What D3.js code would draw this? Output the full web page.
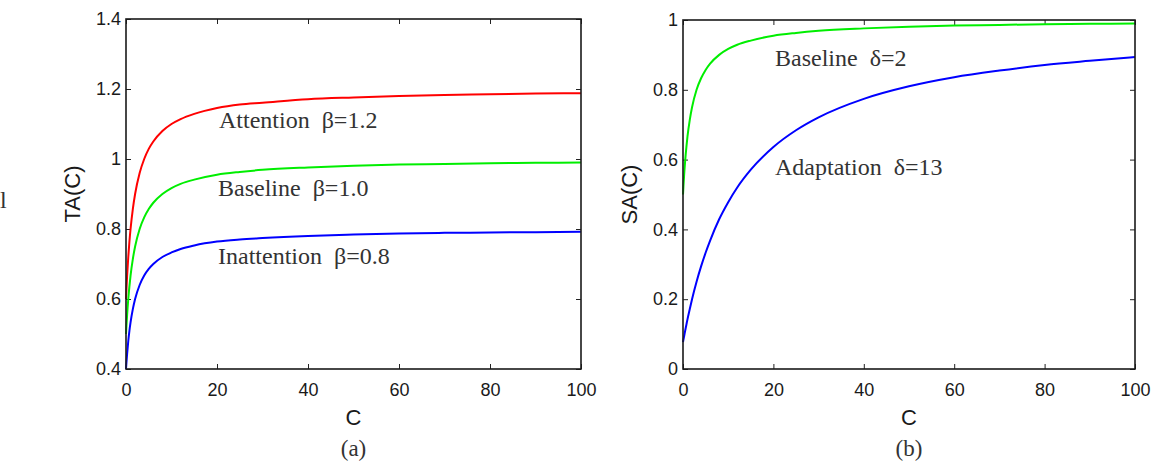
<!DOCTYPE html>
<html>
<head>
<meta charset="utf-8">
<script src="https://cdn.jsdelivr.net/npm/d3@7"></script>
<style>
  html, body { margin: 0; padding: 0; background: #fff; }
  svg { display: block; }
  .tick text { font-family: "Liberation Sans", Arial, sans-serif; font-size: 18px; fill: #1a1a1a; }
  .ann { font-family: "Liberation Serif", "Times New Roman", serif; font-size: 24px; fill: #333; white-space: pre; }
  .axlab { font-family: "Liberation Sans", Arial, sans-serif; font-size: 22px; fill: #1a1a1a; }
  .cap { font-family: "Liberation Serif", "Times New Roman", serif; font-size: 23px; fill: #333; }
</style>
</head>
<body>
<svg id="chart" width="1153" height="469"></svg>
<script>
// ---- data ----
const C = [0, 0.1, 0.25, 0.5, 0.75, 1, 1.5, 2, 3, 4, 5, 6, 8, 10, 12, 15, 20, 25, 30, 40, 50, 60, 70, 80, 90, 100];
const taAttention   = [0.600, 0.629, 0.667, 0.720, 0.764, 0.800, 0.857, 0.900, 0.960, 1.000, 1.029, 1.050, 1.080, 1.100, 1.114, 1.129, 1.146, 1.156, 1.161, 1.171, 1.176, 1.180, 1.183, 1.185, 1.187, 1.188];
const taBaseline    = [0.500, 0.524, 0.556, 0.600, 0.636, 0.667, 0.714, 0.750, 0.800, 0.833, 0.857, 0.875, 0.900, 0.917, 0.929, 0.941, 0.955, 0.963, 0.969, 0.976, 0.981, 0.984, 0.986, 0.988, 0.989, 0.990];
const taInattention = [0.400, 0.419, 0.444, 0.480, 0.509, 0.533, 0.571, 0.600, 0.640, 0.667, 0.686, 0.700, 0.720, 0.733, 0.743, 0.753, 0.764, 0.770, 0.774, 0.780, 0.784, 0.787, 0.789, 0.790, 0.791, 0.792];
const saBaseline    = [0.500, 0.524, 0.556, 0.600, 0.636, 0.667, 0.714, 0.750, 0.800, 0.833, 0.857, 0.875, 0.900, 0.917, 0.929, 0.941, 0.955, 0.963, 0.969, 0.976, 0.981, 0.984, 0.986, 0.988, 0.989, 0.990];
const saAdaptation  = [0.077, 0.084, 0.094, 0.111, 0.127, 0.143, 0.172, 0.200, 0.250, 0.294, 0.333, 0.368, 0.429, 0.478, 0.520, 0.571, 0.636, 0.684, 0.721, 0.774, 0.810, 0.836, 0.855, 0.871, 0.883, 0.894];

const xTicks = [0, 20, 40, 60, 80, 100];
const taTicks = [0.4, 0.6, 0.8, 1, 1.2, 1.4];
const saTicks = [0, 0.2, 0.4, 0.6, 0.8, 1];

const panels = [
  { box: [126, 19, 581, 369], yDomain: [0.4, 1.4], yTicks: taTicks, yLabel: "TA(C)", caption: "(a)", ylabX: 72,
    series: [
      { values: taAttention, color: "#ff0000", label: "Attention  \u03b2=1.2", lx: 219, ly: 128 },
      { values: taBaseline, color: "#00ee00", label: "Baseline  \u03b2=1.0", lx: 218, ly: 196 },
      { values: taInattention, color: "#0000ff", label: "Inattention  \u03b2=0.8", lx: 218, ly: 264 }
    ] },
  { box: [683, 20, 1135, 369], yDomain: [0, 1], yTicks: saTicks, yLabel: "SA(C)", caption: "(b)", ylabX: 629,
    series: [
      { values: saBaseline, color: "#00ee00", label: "Baseline  \u03b4=2", lx: 775, ly: 66 },
      { values: saAdaptation, color: "#0000ff", label: "Adaptation  \u03b4=13", lx: 775, ly: 175 }
    ] }
];

const svg = d3.select("#chart");

panels.forEach(p => {
  const [x0, y0, x1, y1] = p.box;
  const x = d3.scaleLinear().domain([0, 100]).range([x0, x1]);
  const y = d3.scaleLinear().domain(p.yDomain).range([y1, y0]);
  const g = svg.append("g");

  const fmt = d => String(d);
  g.append("g").attr("transform", `translate(0,${y1})`)
    .call(d3.axisBottom(x).tickValues(xTicks).tickFormat(fmt).tickSize(-5).tickSizeOuter(0).tickPadding(14));
  g.append("g").attr("transform", `translate(0,${y0})`)
    .call(d3.axisTop(x).tickValues(xTicks).tickFormat("").tickSize(-5).tickSizeOuter(0));
  g.append("g").attr("transform", `translate(${x0},0)`)
    .call(d3.axisLeft(y).tickValues(p.yTicks).tickFormat(fmt).tickSize(-5).tickSizeOuter(0).tickPadding(5));
  g.append("g").attr("transform", `translate(${x1},0)`)
    .call(d3.axisRight(y).tickValues(p.yTicks).tickFormat("").tickSize(-5).tickSizeOuter(0));
  g.selectAll(".domain").remove();
  g.selectAll(".tick line").attr("stroke", "#222").attr("stroke-width", 1);

  const line = d3.line().x((d, i) => x(C[i])).y(d => y(d)).curve(d3.curveMonotoneX);
  p.series.forEach(s => {
    g.append("path").datum(s.values).attr("d", line)
      .attr("fill", "none").attr("stroke", s.color).attr("stroke-width", 2);
  });

  g.append("rect").attr("x", x0).attr("y", y0).attr("width", x1 - x0).attr("height", y1 - y0)
    .attr("fill", "none").attr("stroke", "#1a1a1a").attr("stroke-width", 1.6);

  p.series.forEach(s => {
    g.append("text").attr("class", "ann").attr("x", s.lx).attr("y", s.ly).text(s.label);
  });

  g.append("text").attr("class", "axlab").attr("text-anchor", "middle")
    .attr("x", (x0 + x1) / 2).attr("y", 425).text("C");
  g.append("text").attr("class", "axlab").attr("text-anchor", "middle")
    .attr("transform", `translate(${p.ylabX},${(y0 + y1) / 2}) rotate(-90)`)
    .attr("dy", "0.35em").text(p.yLabel);
  g.append("text").attr("class", "cap").attr("text-anchor", "middle")
    .attr("x", (x0 + x1) / 2).attr("y", 456).text(p.caption);
});

// small glyph fragment at the left edge of the reference
svg.append("text").attr("class", "ann").attr("x", 0).attr("y", 208).text("l");
</script>
</body>
</html>
